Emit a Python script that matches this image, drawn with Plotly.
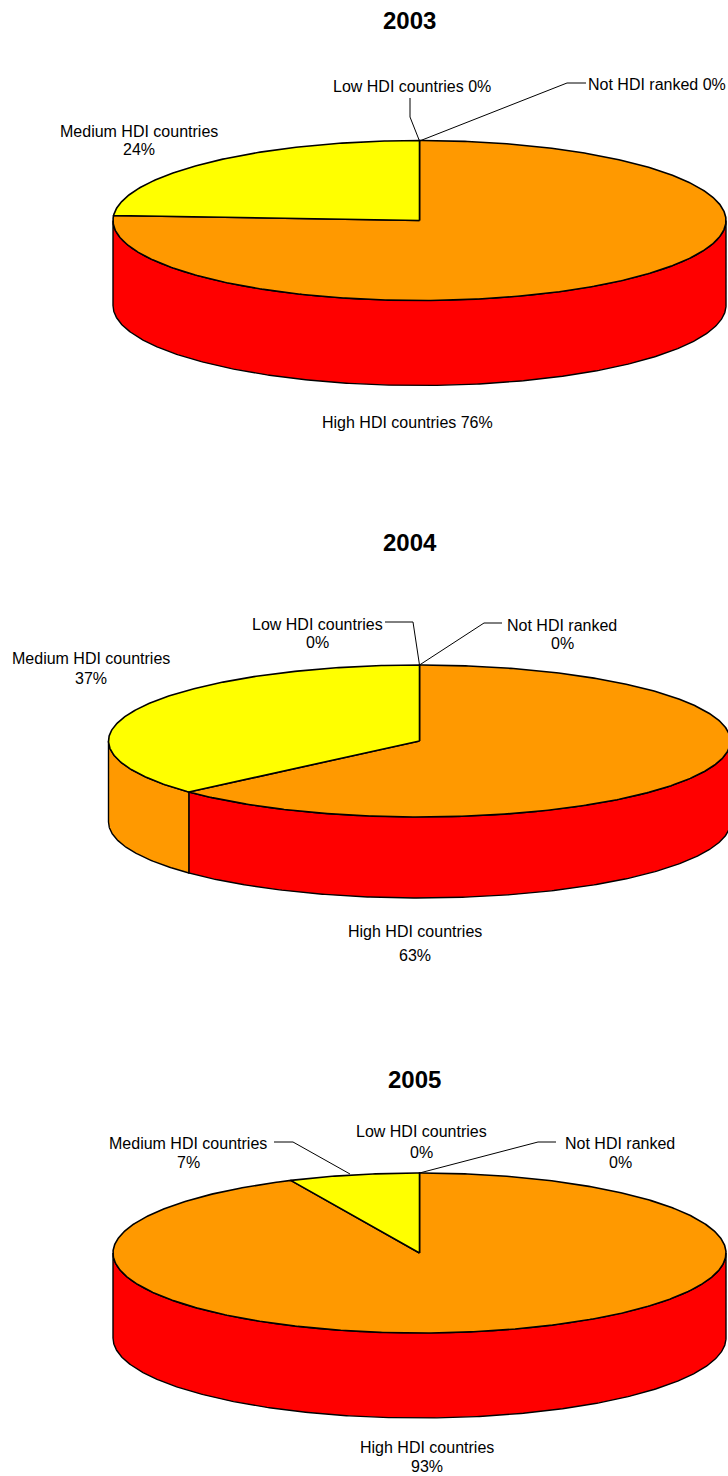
import numpy as np
import plotly.graph_objects as go

# ---- data ----
years = ["2003", "2004", "2005"]
categories = ["High HDI countries", "Medium HDI countries", "Low HDI countries", "Not HDI ranked"]
high_hdi = [76, 63.3, 93.1]
medium_hdi = [24, 36.7, 6.9]
low_hdi = [0, 0, 0]
not_ranked = [0, 0, 0]

# ---- styles ----
top_colors = ["#FF9900", "#FFFF00", "#FFFF00", "#FFFF00"]
side_colors = ["#FF0000", "#FF9900", "#FF9900", "#FF9900"]
FONT = "Liberation Sans, Arial, sans-serif"
LABEL_SIZE = 16
TITLE_SIZE = 24

# ---- geometry: centre x, centre y, radius x, radius y, depth ----
pies = [(419.5, 220.5, 306.5, 80, 85), (419.5, 741, 311, 76, 81), (419.5, 1253, 306.5, 80, 85)]
title_pos = [(409.5, 20), (409.5, 542), (414.5, 1079)]

# text lines: x, y, text
label_lines = [
    [(412, 86, "Low HDI countries 0%"), (657, 84, "Not HDI ranked 0%"),
     (139, 131, "Medium HDI countries"), (139, 149, "24%"), (407, 422, "High HDI countries 76%")],
    [(317, 624, "Low HDI countries"), (317, 642, "0%"), (562, 625, "Not HDI ranked"), (562, 643, "0%"),
     (91, 658, "Medium HDI countries"), (91, 678, "37%"), (415, 931, "High HDI countries"), (415, 955, "63%")],
    [(188, 1143, "Medium HDI countries"), (188, 1162, "7%"), (421, 1131, "Low HDI countries"), (421, 1152, "0%"),
     (620, 1143, "Not HDI ranked"), (620, 1162, "0%"), (427, 1447, "High HDI countries"), (427, 1466, "93%")],
]
leaders = [
    [[(410, 98), (410, 117), (419.5, 141)], [(419.5, 141), (567, 83), (586, 83)]],
    [[(385, 622), (413, 622), (419.5, 665)], [(419.5, 665), (484, 623), (502, 623)]],
    [[(274, 1142), (293, 1142), (350, 1174)], [(419.5, 1173), (538, 1142), (556, 1142)]],
]


def arc(cx, cy, rx, ry, a0, a1):
    """Ellipse points; angle is in degrees, clockwise from 12 o'clock."""
    n = max(2, int(abs(a1 - a0) * 2))
    t = np.radians(np.linspace(a0, a1, n))
    return cx + rx * np.sin(t), cy - ry * np.cos(t)


fig = go.Figure()


def poly(x, y, color, width=1.4):
    fig.add_trace(go.Scatter(x=list(x), y=list(y), mode="lines", fill="toself", fillcolor=color,
                             line=dict(color="#000000", width=width), hoverinfo="skip", showlegend=False))


for i, (cx, cy, rx, ry, depth) in enumerate(pies):
    values = [high_hdi[i], medium_hdi[i], low_hdi[i], not_ranked[i]]
    edges = np.concatenate([[0], np.cumsum(values)]) / sum(values) * 360

    # side walls: only the front half of the ellipse (90..270 degrees) shows
    for j in range(len(values)):
        a0, a1 = max(edges[j], 90), min(edges[j + 1], 270)
        if a1 > a0:
            xt, yt = arc(cx, cy, rx, ry, a0, a1)
            xb, yb = arc(cx, cy + depth, rx, ry, a1, a0)
            poly(np.r_[xt, xb, xt[0]], np.r_[yt, yb, yt[0]], side_colors[j])

    # top faces
    for j in range(len(values)):
        if values[j] > 0:
            xa, ya = arc(cx, cy, rx, ry, edges[j], edges[j + 1])
            poly(np.r_[cx, xa, cx], np.r_[cy, ya, cy], top_colors[j], 1.6)

    for pts in leaders[i]:
        fig.add_trace(go.Scatter(x=[p[0] for p in pts], y=[p[1] for p in pts], mode="lines",
                                 line=dict(color="#000000", width=1), hoverinfo="skip", showlegend=False))

    for x, y, text in label_lines[i]:
        fig.add_annotation(x=x, y=y, text=text, showarrow=False, xanchor="center", yanchor="middle",
                           font=dict(family=FONT, size=LABEL_SIZE, color="#000000"))
    fig.add_annotation(x=title_pos[i][0], y=title_pos[i][1], text="<b>%s</b>" % years[i], showarrow=False,
                       xanchor="center", yanchor="middle",
                       font=dict(family=FONT, size=TITLE_SIZE, color="#000000"))

fig.update_layout(
    width=728, height=1476, margin=dict(l=0, r=0, t=0, b=0), autosize=False,
    paper_bgcolor="#FFFFFF", plot_bgcolor="#FFFFFF", showlegend=False,
    xaxis=dict(range=[0, 728], visible=False, fixedrange=True),
    yaxis=dict(range=[1476, 0], visible=False, fixedrange=True),
)
fig.write_html("out.html", config={"displayModeBar": False},
               post_script="document.body.style.margin='0';document.documentElement.style.overflow='hidden';")
